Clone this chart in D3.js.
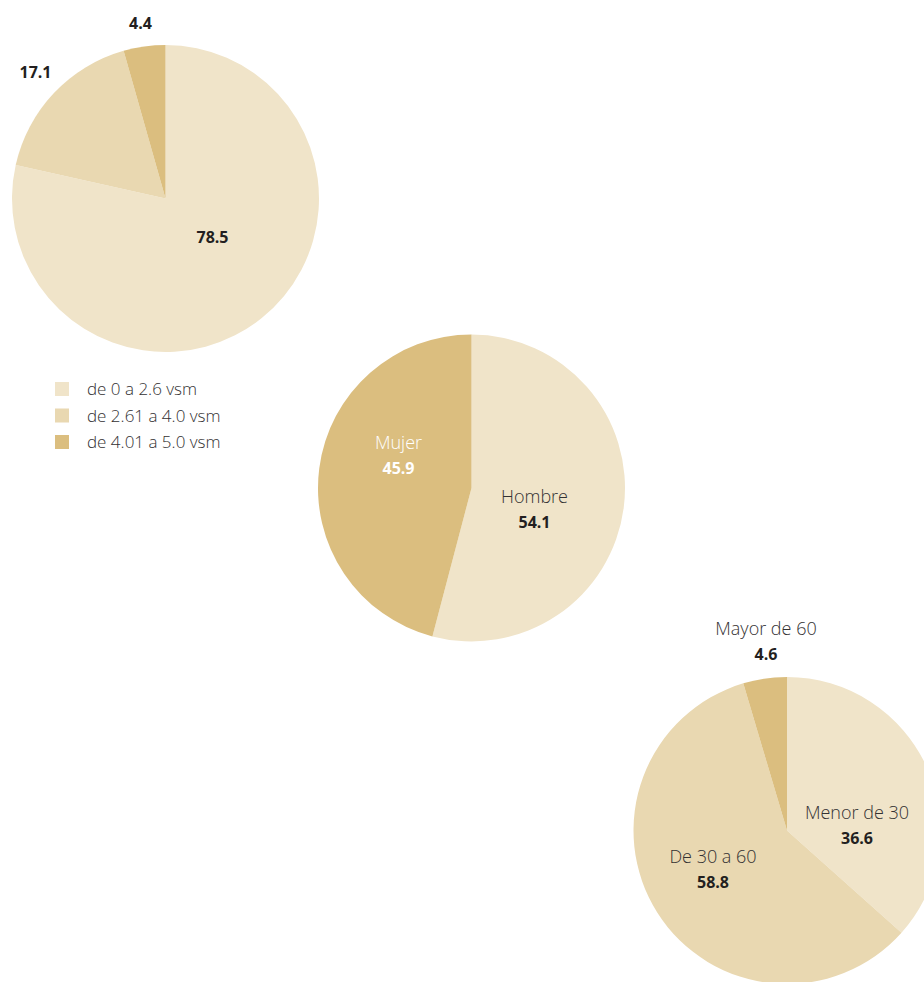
<!DOCTYPE html>
<meta charset="utf-8">
<style>
  body { margin: 0; background: #fff; }
  svg { display: block; font-family: "Open Sans", Lato, sans-serif; }
  .lbl { fill: #333132; font-weight: 300; font-size: 18px; }
  .val { fill: #231f20; font-weight: 700; font-size: 16px; }
</style>
<body></body>
<script src="https://d3js.org/d3.v7.min.js"></script>
<script>
// salary ranges (vsm)
var salaryNames = ["de 0 a 2.6 vsm", "de 2.61 a 4.0 vsm", "de 4.01 a 5.0 vsm"];
var salaryValues = [78.5, 17.1, 4.4];

// sex
var sexNames = ["Hombre", "Mujer"];
var sexValues = [54.1, 45.9];

// age
var ageNames = ["Menor de 30", "De 30 a 60", "Mayor de 60"];
var ageValues = [36.6, 58.8, 4.6];

var light = "#f0e4c9", mid = "#e9d8b1", dark = "#dbbe7f";

var width = 924, height = 982;
var svg = d3.select("body").append("svg")
    .attr("width", width)
    .attr("height", height);

var pie = d3.pie().sort(null).value(d => d.v);
var arc = d3.arc().innerRadius(0).outerRadius(153.5);

// pie centres and label offsets (relative to centre)
var charts = [
    {cx: 165.5, cy: 198.5, names: salaryNames, values: salaryValues, colors: [light, mid, dark],
     labels: [{dx: 47, dy: 38, name: false}, {dx: -130, dy: -127, name: false}, {dx: -25, dy: -176, name: false}],
     textColor: ["#231f20", "#231f20", "#231f20"]},
    {cx: 471.5, cy: 488, names: sexNames, values: sexValues, colors: [light, dark],
     labels: [{dx: 63, dy: 9, name: true}, {dx: -73, dy: -45, name: true}],
     textColor: ["#231f20", "#ffffff"]},
    {cx: 787, cy: 830.5, names: ageNames, values: ageValues, colors: [light, mid, dark],
     labels: [{dx: 70, dy: -18, name: true}, {dx: -74, dy: 26, name: true}, {dx: -21, dy: -202, name: true}],
     textColor: ["#231f20", "#231f20", "#231f20"]}
];

charts.forEach(function (c) {
    var data = c.values.map((v, i) => ({v: v, name: c.names[i], i: i}));
    var g = svg.append("g").attr("transform", "translate(" + c.cx + "," + c.cy + ")");
    g.selectAll("path")
        .data(pie(data))
        .enter().append("path")
        .attr("d", arc)
        .attr("fill", d => c.colors[d.index]);

    data.forEach(function (d, i) {
        var l = c.labels[i];
        var t = g.append("g").attr("transform", "translate(" + l.dx + "," + l.dy + ")");
        if (l.name) {
            t.append("text").attr("class", "lbl")
                .attr("text-anchor", "middle")
                .attr("y", 6)
                .style("fill", c.textColor[i] === "#ffffff" ? "#ffffff" : null)
                .text(d.name);
            t.append("text").attr("class", "val")
                .attr("text-anchor", "middle")
                .attr("y", 31)
                .style("fill", c.textColor[i])
                .text(d3.format(".1f")(d.v));
        } else {
            t.append("text").attr("class", "val")
                .attr("text-anchor", "middle")
                .attr("y", 6)
                .style("fill", c.textColor[i])
                .text(d3.format(".1f")(d.v));
        }
    });
});

// legend for the salary pie
var legend = svg.append("g").attr("transform", "translate(55,382)");
var item = legend.selectAll("g")
    .data(salaryNames)
    .enter().append("g")
    .attr("transform", (d, i) => "translate(0," + (i * 26.5) + ")");
item.append("rect")
    .attr("width", 14)
    .attr("height", 14)
    .attr("fill", (d, i) => [light, mid, dark][i]);
item.append("text")
    .attr("class", "lbl")
    .attr("x", 32)
    .attr("y", 13)
    .style("font-size", "17px")
    .text(d => d);
</script>
